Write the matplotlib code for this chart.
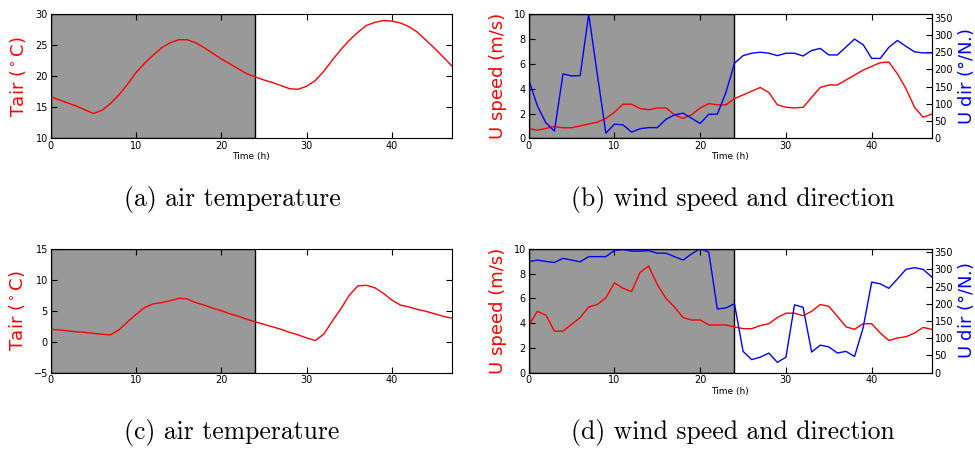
import numpy as np
import matplotlib
matplotlib.use('Agg')
import matplotlib.pyplot as plt

hours = list(range(48))

# (a) air temperature, day 1
tair_a = [16.7, 16.2, 15.7, 15.2, 14.6, 14.0, 14.5, 15.6, 17.0, 18.7,
          20.6, 22.1, 23.4, 24.6, 25.4, 25.9, 25.9, 25.4, 24.6, 23.7,
          22.8, 22.0, 21.2, 20.4, 19.9, 19.4, 19.0, 18.5, 18.0, 17.9,
          18.4, 19.3, 20.8, 22.6, 24.3, 25.8, 27.1, 28.2, 28.7, 29.0,
          28.9, 28.6, 28.0, 27.1, 25.8, 24.5, 23.1, 21.7]

# (b) wind speed / direction
uspeed_b = [0.8, 0.65, 0.8, 0.95, 0.85, 0.85, 1.0, 1.15, 1.3, 1.6,
            2.1, 2.75, 2.75, 2.4, 2.3, 2.45, 2.45, 1.9, 1.6, 1.9,
            2.45, 2.8, 2.7, 2.7, 3.2, 3.5, 3.8, 4.1, 3.7, 2.7,
            2.5, 2.45, 2.5, 3.3, 4.1, 4.3, 4.3, 4.7, 5.1, 5.5,
            5.8, 6.1, 6.15, 5.2, 4.0, 2.5, 1.7, 1.95]
udir_b = [170, 95, 45, 21, 187, 181, 182, 360, 186, 15,
          41, 39, 18, 28, 31, 31, 55, 68, 73, 58,
          43, 70, 70, 133, 218, 240, 247, 250, 247, 240,
          247, 247, 239, 255, 261, 242, 242, 265, 288, 272,
          232, 232, 264, 284, 267, 251, 248, 248]

# (c) air temperature, day 2
tair_c = [2.0, 1.9, 1.75, 1.6, 1.5, 1.35, 1.2, 1.1, 1.9, 3.2,
          4.4, 5.5, 6.1, 6.3, 6.6, 7.0, 6.9, 6.3, 5.9, 5.4,
          5.0, 4.5, 4.1, 3.6, 3.2, 2.8, 2.4, 2.0, 1.5, 1.1,
          0.6, 0.2, 1.2, 3.3, 5.3, 7.5, 9.0, 9.1, 8.7, 7.8,
          6.7, 5.9, 5.6, 5.2, 4.9, 4.5, 4.1, 3.8]

# (d) wind speed / direction
uspeed_d = [3.8, 4.95, 4.65, 3.35, 3.35, 3.9, 4.45, 5.3, 5.5, 6.05,
            7.25, 6.8, 6.55, 8.1, 8.6, 7.1, 6.0, 5.3, 4.45, 4.25,
            4.25, 3.85, 3.85, 3.85, 3.7, 3.55, 3.55, 3.8, 3.95, 4.45,
            4.8, 4.8, 4.6, 4.95, 5.5, 5.35, 4.55, 3.7, 3.5, 3.95,
            3.95, 3.2, 2.6, 2.8, 2.9, 3.2, 3.65, 3.5]
udir_d = [322, 327, 323, 320, 332, 327, 322, 337, 337, 337,
          355, 358, 353, 353, 354, 347, 347, 337, 327, 345,
          360, 350, 185, 188, 200, 62, 38, 45, 57, 30,
          45, 197, 190, 60, 80, 75, 57, 62, 47, 130,
          263, 258, 245, 272, 300, 305, 300, 278]

captions = ['(a) air temperature', '(b) wind speed and direction',
            '(c) air temperature', '(d) wind speed and direction']

plt.rcParams['font.family'] = 'DejaVu Sans'

fig = plt.figure(figsize=(9.75, 4.5), dpi=100)

W, H = 975.0, 450.0


def make_ax(left, right, top, bottom):
    return fig.add_axes([left / W, 1 - bottom / H, (right - left) / W, (bottom - top) / H])


def style(ax, right=True):
    ax.tick_params(direction='in', labelsize=7, top=True, right=right, length=4,
                   pad=2)
    ax.set_xlim(0, 47)
    ax.axvspan(0, 24, facecolor='#999999', edgecolor='black', linewidth=1.0, zorder=0)


def temp_panel(ax, vals, ylim, yticks, timelabel):
    style(ax)
    ax.plot(hours, vals, color='red', lw=1)
    ax.set_ylim(*ylim)
    ax.set_yticks(yticks)
    ax.set_xticks([0, 10, 20, 30, 40])
    ax.set_ylabel('Tair ($^\\circ$C)', color='red', fontsize=13, labelpad=5)
    if timelabel:
        ax.set_xlabel('Time (h)', fontsize=6.5, labelpad=1)


def wind_panel(ax, spd, drc):
    style(ax, right=False)
    ax.plot(hours, spd, color='red', lw=1)
    ax.set_ylim(0, 10)
    ax.set_yticks([0, 2, 4, 6, 8, 10])
    ax.set_xticks([0, 10, 20, 30, 40])
    ax.set_ylabel('U speed (m/s)', color='red', fontsize=13, labelpad=5)
    ax.set_xlabel('Time (h)', fontsize=6.5, labelpad=1)
    ax2 = ax.twinx()
    ax2.plot(hours, drc, color='blue', lw=1)
    ax2.set_ylim(0, 360)
    ax2.set_yticks(range(0, 351, 50))
    ax2.set_xlim(0, 47)
    ax2.tick_params(direction='in', labelsize=7, length=4, pad=2)
    ax2.set_ylabel('U dir ($\\degree$/N.)', color='blue', fontsize=13, labelpad=2)


ax_a = make_ax(50.7, 451.7, 14.3, 138.3)
temp_panel(ax_a, tair_a, (10, 30), [10, 15, 20, 25, 30], True)

ax_b = make_ax(528.7, 931.7, 14.3, 138.3)
wind_panel(ax_b, uspeed_b, udir_b)

ax_c = make_ax(50.7, 451.7, 248.7, 372.7)
temp_panel(ax_c, tair_c, (-5, 15), [-5, 0, 5, 10, 15], False)

ax_d = make_ax(528.7, 931.7, 248.7, 372.7)
wind_panel(ax_d, uspeed_d, udir_d)

cap_pos = [(232, 199), (733, 199), (232, 433), (733, 433)]
for (cx, cy), txt in zip(cap_pos, captions):
    fig.text(cx / W, 1 - cy / H, txt, ha='center', va='center',
             fontsize=18.5, family='cmr10')

fig.savefig('out.png', dpi=100)
